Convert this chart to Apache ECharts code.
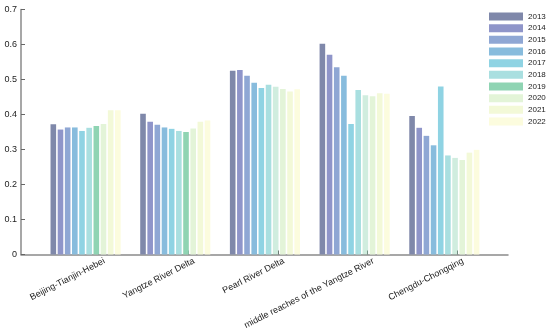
<!DOCTYPE html>
<html>
<head>
<meta charset="utf-8">
<script src="https://cdn.jsdelivr.net/npm/echarts@6/dist/echarts.min.js"></script>
<style>html,body{margin:0;padding:0;background:#fff;}#c{width:550px;height:334px;}</style>
</head>
<body>
<div id="c"></div>
<script>
const categories = ['Beijing-Tianjin-Hebei', 'Yangtze River Delta', 'Pearl River Delta', 'middle reaches of the Yangtze River', 'Chengdu-Chongqing'];
const years = ['2013','2014','2015','2016','2017','2018','2019','2020','2021','2022'];
const v2013 = [0.372, 0.402, 0.525, 0.602, 0.396];
const v2014 = [0.357, 0.379, 0.527, 0.571, 0.362];
const v2015 = [0.363, 0.371, 0.511, 0.535, 0.339];
const v2016 = [0.363, 0.363, 0.491, 0.511, 0.312];
const v2017 = [0.353, 0.359, 0.476, 0.373, 0.480];
const v2018 = [0.362, 0.353, 0.485, 0.470, 0.283];
const v2019 = [0.367, 0.350, 0.479, 0.455, 0.276];
const v2020 = [0.373, 0.360, 0.473, 0.452, 0.270];
const v2021 = [0.412, 0.379, 0.466, 0.461, 0.291];
const v2022 = [0.412, 0.383, 0.472, 0.459, 0.299];
const yTicks = [0, 0.1, 0.2, 0.3, 0.4, 0.5, 0.6, 0.7];
const colors = ['#7f88aa','#8f95c9','#8fa7d4','#88bcdd','#8fd3e3','#a9dfe0','#8fd4b3','#e3f4d8','#f3f9d8','#fcfcde'];
const allValues = [v2013, v2014, v2015, v2016, v2017, v2018, v2019, v2020, v2021, v2022];

const tickShift = 0.145;
const labelShift = 0.21;
const tickPos = categories.map((c, i) => i + 1 + tickShift);
const labelPos = categories.map((c, i) => i + 1 + labelShift);

const series = years.map((y, si) => ({
  name: y,
  type: 'bar',
  barWidth: 5.6,
  barGap: '28%',
  itemStyle: { color: colors[si] },
  data: allValues[si].map((v, i) => {
    const d = { value: [i + 1, v] };
    if (si === 6 && i >= 2) d.itemStyle = { opacity: 0.42 };
    return d;
  })
}));

const chart = echarts.init(document.getElementById('c'), null, { renderer: 'canvas' });
chart.setOption({
  animation: false,
  backgroundColor: '#fff',
  grid: { left: 21, right: 42, top: 9.5, bottom: 79.5, containLabel: false },
  legend: {
    orient: 'vertical',
    left: 489,
    top: 12.5,
    padding: 0,
    itemWidth: 34,
    itemHeight: 8,
    itemGap: 3.67,
    icon: 'rect',
    data: years,
    textStyle: { fontFamily: 'Liberation Sans, Arial', fontSize: 8, color: '#222' }
  },
  xAxis: {
    type: 'value',
    min: 0.28,
    max: 5.71,
    splitLine: { show: false },
    axisLine: { show: true, lineStyle: { color: '#8a8a8a', width: 1.5 } },
    axisTick: { show: true, inside: true, length: 4, customValues: tickPos, lineStyle: { color: '#666', width: 1 } },
    axisLabel: {
      customValues: labelPos,
      rotate: 27,
      margin: 6,
      fontFamily: 'Liberation Sans, Arial',
      fontSize: 9,
      color: '#222',
      formatter: function (v) { return categories[Math.round(v - labelShift) - 1] || ''; }
    }
  },
  yAxis: {
    type: 'value',
    min: 0,
    max: 0.7,
    interval: 0.1,
    splitLine: { show: false },
    axisLine: { show: true, lineStyle: { color: '#8a8a8a', width: 1.5 } },
    axisTick: { show: true, inside: true, length: 4, lineStyle: { color: '#666' } },
    axisLabel: {
      margin: 4,
      fontFamily: 'Liberation Sans, Arial',
      fontSize: 9,
      color: '#222',
      customValues: yTicks,
      formatter: function (v) { return String(Math.round(v * 10) / 10); }
    }
  },
  series: series
});
</script>
</body>
</html>
